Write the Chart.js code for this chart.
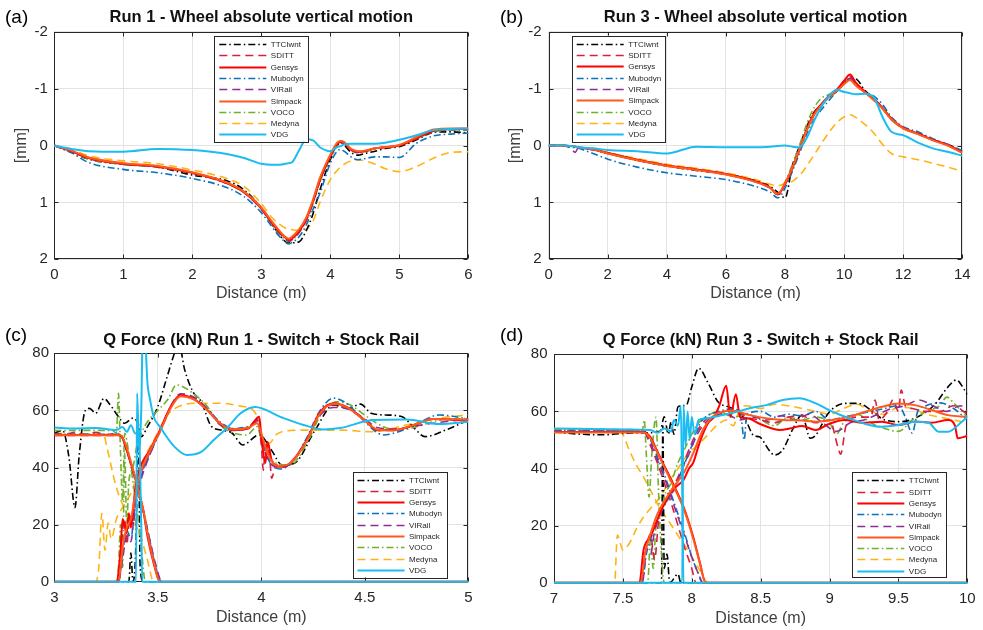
<!DOCTYPE html>
<html><head><meta charset="utf-8">
<script src="https://cdn.jsdelivr.net/npm/chart.js@4.4.1/dist/chart.umd.min.js"></script>
<style>
html,body{margin:0;padding:0;background:#fff;}
#wrap{position:relative;width:983px;height:630px;overflow:hidden;background:#fff;}
.pane{position:absolute;}
.pane canvas{display:block;}
.tag{position:absolute;font:19px 'Liberation Sans',Arial,sans-serif;color:#000;line-height:22px;white-space:nowrap;}
</style></head><body>
<div id="wrap">
<div class="pane" style="left:0;top:0;width:490px;height:305px"><canvas id="cA" width="490" height="305" style="width:490px;height:305px"></canvas></div>
<div class="pane" style="left:490px;top:0;width:493px;height:305px"><canvas id="cB" width="493" height="305" style="width:493px;height:305px"></canvas></div>
<div class="pane" style="left:0;top:305px;width:490px;height:325px"><canvas id="cC" width="490" height="325" style="width:490px;height:325px"></canvas></div>
<div class="pane" style="left:490px;top:305px;width:493px;height:325px"><canvas id="cD" width="493" height="325" style="width:493px;height:325px"></canvas></div>
<div class="tag" style="left:5px;top:6px">(a)</div>
<div class="tag" style="left:500px;top:6px">(b)</div>
<div class="tag" style="left:5px;top:324px">(c)</div>
<div class="tag" style="left:500px;top:324px">(d)</div>
</div>
<script>
// ---------- series ----------
const seriesNames  = ['TTCIwnt','SDITT','Gensys','Mubodyn','VIRail','Simpack','VOCO','Medyna','VDG'];
const seriesColors = ['#000000','#D6203F','#FF0000','#0A72BD','#8E2E95','#FF5A1E','#70B02C','#FFB414','#1BBCF0'];
const seriesDash   = ['dd','da','so','dd','da','so','dd','da','so'];
const seriesOrder  = [7,5,2,4,3,1,6,8,0];

// ---------- tick labels ----------
const A_xTicks = [0,1,2,3,4,5,6];
const B_xTicks = [0,2,4,6,8,10,12,14];
const AB_yTicks = [-2,-1,0,1,2];
const C_xTicks = [3,3.5,4,4.5,5];
const D_xTicks = [7,7.5,8,8.5,9,9.5,10];
const CD_yTicks = [0,20,40,60,80];

// ---------- (a) Run 1 - wheel vertical motion (mm) ----------
const A_x       = [0,0.25,0.5,1,1.5,2,2.5,2.75,3,3.15,3.25,3.35,3.4,3.45,3.55,3.65,3.75,3.85,4.0,4.1,4.15,4.2,4.3,4.4,4.5,4.65,4.8,5.0,5.25,5.5,5.75,6.0];
const A_TTCIwnt = [0,0.12,0.24,0.33,0.38,0.52,0.62,0.78,1.1,1.38,1.55,1.69,1.71,1.71,1.69,1.5,1.2,0.78,0.25,0.0,-0.05,-0.01,0.12,0.17,0.14,0.1,0.05,0.02,-0.1,-0.23,-0.24,-0.22];
const A_SDITT   = [0,0.1,0.23,0.33,0.38,0.49,0.67,0.83,1.12,1.37,1.52,1.64,1.68,1.65,1.52,1.32,1.0,0.62,0.2,-0.02,-0.06,-0.04,0.08,0.12,0.1,0.05,0.03,0.0,-0.12,-0.25,-0.28,-0.28];
const A_Gensys  = [0,0.1,0.22,0.32,0.37,0.48,0.66,0.82,1.1,1.35,1.5,1.62,1.66,1.63,1.5,1.3,0.98,0.6,0.19,-0.03,-0.07,-0.05,0.07,0.11,0.1,0.05,0.03,0.0,-0.13,-0.26,-0.29,-0.29];
const A_Mubodyn = [0,0.13,0.3,0.42,0.48,0.58,0.74,0.9,1.18,1.42,1.58,1.7,1.73,1.7,1.6,1.4,1.12,0.84,0.31,0.1,0.07,0.1,0.2,0.25,0.23,0.2,0.2,0.21,-0.04,-0.17,-0.2,-0.22];
const A_VIRail  = [0,0.1,0.22,0.32,0.37,0.48,0.66,0.82,1.11,1.36,1.51,1.63,1.67,1.64,1.51,1.31,0.99,0.61,0.19,-0.01,-0.04,-0.03,0.08,0.12,0.1,0.05,0.03,0.0,-0.13,-0.26,-0.28,-0.28];
const A_Simpack = [0,0.09,0.21,0.31,0.36,0.47,0.65,0.81,1.09,1.33,1.48,1.61,1.64,1.6,1.47,1.27,0.95,0.57,0.16,-0.05,-0.08,-0.06,0.06,0.1,0.09,0.05,0.03,-0.01,-0.15,-0.28,-0.3,-0.3];
const A_VOCO    = [0,0.11,0.24,0.33,0.38,0.49,0.67,0.83,1.12,1.38,1.54,1.66,1.69,1.66,1.53,1.33,1.02,0.64,0.22,0.0,-0.05,-0.04,0.08,0.13,0.11,0.06,0.03,0.0,-0.12,-0.24,-0.27,-0.27];
const A_Medyna  = [0,0.07,0.18,0.27,0.32,0.43,0.58,0.72,1.02,1.26,1.37,1.45,1.46,1.48,1.49,1.47,1.33,1.0,0.6,0.44,0.38,0.33,0.27,0.25,0.27,0.33,0.41,0.46,0.37,0.22,0.12,0.11];
const A_VDG     = [0,0.06,0.1,0.11,0.06,0.08,0.15,0.22,0.32,0.34,0.34,0.32,0.31,0.29,0.08,-0.11,-0.09,0.03,0.1,0.03,0.01,-0.02,-0.03,-0.03,-0.03,-0.03,-0.05,-0.1,-0.18,-0.27,-0.29,-0.3];

// ---------- (b) Run 3 - wheel vertical motion (mm) ----------
const B_x       = [0,0.5,0.75,0.9,1,1.5,2,3,4,5,6,7,7.5,7.75,8,8.25,8.5,8.75,9,9.25,9.5,9.75,10,10.2,10.4,10.7,11,11.3,11.6,12,12.5,13,13.5,14];
const B_TTCIwnt = [0,0,0.01,0.02,0.03,0.07,0.14,0.26,0.36,0.44,0.5,0.62,0.72,0.82,0.92,0.35,0.0,-0.35,-0.6,-0.72,-0.85,-0.95,-1.08,-1.18,-1.17,-0.97,-0.83,-0.66,-0.46,-0.3,-0.21,-0.1,-0.02,0.1];
const B_SDITT   = [0,0,0.01,0.02,0.03,0.08,0.14,0.26,0.36,0.43,0.51,0.64,0.75,0.86,0.67,0.39,0.05,-0.3,-0.57,-0.73,-0.87,-0.97,-1.12,-1.21,-1.08,-0.94,-0.81,-0.66,-0.47,-0.31,-0.21,-0.1,-0.01,0.11];
const B_Gensys  = [0,0,0.01,0.02,0.03,0.07,0.13,0.25,0.35,0.42,0.5,0.63,0.74,0.86,0.68,0.4,0.06,-0.3,-0.58,-0.74,-0.88,-0.98,-1.14,-1.25,-1.1,-0.95,-0.82,-0.66,-0.47,-0.31,-0.21,-0.1,-0.01,0.12];
const B_Mubodyn = [0,0.01,0.03,0.04,0.05,0.14,0.24,0.38,0.48,0.54,0.6,0.72,0.82,0.92,0.75,0.45,0.12,-0.22,-0.47,-0.64,-0.8,-0.95,-1.08,-1.16,-1.06,-0.94,-0.87,-0.72,-0.5,-0.33,-0.24,-0.12,-0.02,0.09];
const B_VIRail  = [0,0,0.05,0.12,0.04,0.07,0.13,0.25,0.35,0.42,0.5,0.63,0.74,0.85,0.67,0.39,0.05,-0.29,-0.57,-0.73,-0.87,-0.97,-1.11,-1.18,-1.07,-0.94,-0.81,-0.66,-0.47,-0.31,-0.21,-0.1,-0.01,0.11];
const B_Simpack = [0,0,0.01,0.02,0.03,0.07,0.14,0.26,0.36,0.43,0.51,0.64,0.75,0.85,0.66,0.38,0.05,-0.28,-0.55,-0.72,-0.86,-0.96,-1.08,-1.15,-1.05,-0.93,-0.8,-0.65,-0.46,-0.3,-0.2,-0.09,0.0,0.13];
const B_VOCO    = [0,0,0.01,0.02,0.03,0.07,0.13,0.25,0.36,0.43,0.51,0.64,0.75,0.85,0.64,0.33,-0.02,-0.4,-0.68,-0.84,-0.9,-0.98,-1.1,-1.18,-1.07,-0.93,-0.8,-0.64,-0.45,-0.3,-0.2,-0.1,-0.01,0.1];
const B_Medyna  = [0,0,0.01,0.02,0.03,0.06,0.12,0.23,0.33,0.4,0.48,0.6,0.68,0.71,0.67,0.63,0.52,0.35,0.15,-0.05,-0.24,-0.4,-0.5,-0.54,-0.49,-0.37,-0.22,-0.02,0.14,0.2,0.25,0.31,0.38,0.45];
const B_VDG     = [0,0,0.01,0.02,0.03,0.05,0.08,0.1,0.14,0.02,0.03,0.03,0.02,0.01,0.0,0.02,0.03,-0.15,-0.45,-0.7,-0.88,-0.98,-0.94,-0.92,-0.9,-0.91,-0.85,-0.5,-0.24,-0.18,-0.05,0.05,0.11,0.18];

// ---------- (c) Q force Run 1 (kN), [distance, force] ----------
const C_TTCIwnt_stock  = [[3,52],[3.04,53],[3.07,44],[3.1,26],[3.12,44],[3.15,60],[3.17,60.7],[3.2,59],[3.24,64.2],[3.27,61.9],[3.31,57.8],[3.34,55.5],[3.38,57.3],[3.4,56],[3.42,50.8],[3.45,54.3],[3.5,61.3],[3.54,70.6],[3.58,80],[3.6,84],[3.63,74.2],[3.67,66.5],[3.71,63],[3.76,54.3],[3.81,53.1],[3.86,52],[3.91,47.9],[3.99,51.4],[4.05,46],[4.1,40.9],[4.16,41.5],[4.26,53.1],[4.35,61.9],[4.42,60.7],[4.48,62.2],[4.53,59],[4.6,58.4],[4.68,57.8],[4.74,53.7],[4.79,50.8],[4.89,53.1],[5,56.6]];
const C_TTCIwnt_switch = [[3,0],[3.36,0],[3.37,10],[3.38,0],[3.395,15],[3.405,57],[3.415,5],[3.43,0],[4.31,0]];
const C_SDITT_stock    = [[3,52],[3.05,51.5],[3.1,52.3],[3.15,51.5],[3.2,52.3],[3.25,51.5],[3.3,52],[3.33,50],[3.36,44],[3.39,36],[3.42,28],[3.45,18],[3.48,8],[3.51,0],[5,0]];
const C_SDITT_switch   = [[3,0],[3.31,0],[3.325,14],[3.34,22],[3.35,13],[3.365,23],[3.38,20],[3.4,33],[3.43,40],[3.47,46.5],[3.51,53],[3.56,61],[3.61,65],[3.67,64],[3.74,60],[3.8,55.5],[3.87,53.5],[3.94,54],[3.98,57],[4.0,48],[4.01,39],[4.02,48],[4.04,44],[4.05,36.2],[4.07,41],[4.1,40],[4.15,42],[4.22,49.5],[4.28,58.5],[4.35,62],[4.41,61],[4.5,56.5],[4.56,53],[4.64,53],[4.74,55],[4.83,57],[5,56.5]];
const C_Gensys_stock   = [[3,51.4],[3.3,51.4],[3.325,51],[3.35,46],[3.38,39],[3.41,31],[3.43,25],[3.45,16],[3.48,6.5],[3.51,0],[5,0]];
const C_Gensys_switch  = [[3,0],[3.3,0],[3.32,11],[3.33,22],[3.35,17],[3.36,24],[3.37,19],[3.39,32],[3.41,39],[3.46,46],[3.51,53],[3.56,61],[3.61,65.4],[3.67,64.2],[3.74,60.1],[3.8,55.5],[3.87,53.1],[3.94,53.7],[3.96,55.6],[3.99,57.8],[4.0,50.8],[4.02,41.6],[4.03,49],[4.05,42.6],[4.09,40.3],[4.14,41.6],[4.22,49.6],[4.28,59],[4.35,62.5],[4.41,61.3],[4.5,56.6],[4.56,53.1],[4.64,53.1],[4.74,54.9],[4.83,57],[5,56.4]];
const C_Mubodyn_stock  = [[3,51.6],[3.32,51.6],[3.34,48],[3.37,41],[3.4,33],[3.43,25],[3.46,15],[3.49,5],[3.52,0],[5,0]];
const C_Mubodyn_switch = [[3,0],[3.31,0],[3.33,10],[3.35,18],[3.37,15],[3.39,28],[3.42,37],[3.47,46],[3.52,54],[3.57,62],[3.61,65.2],[3.67,64.5],[3.74,60.5],[3.8,56],[3.87,53.6],[3.94,54.5],[3.98,56],[4.01,48],[4.04,42],[4.09,39.5],[4.15,42],[4.22,50.5],[4.28,59.5],[4.35,64.3],[4.42,62],[4.5,56],[4.59,51.4],[4.68,53],[4.77,56],[4.86,58.4],[5,57]];
const C_VIRail_stock   = [[3,51.2],[3.32,51.2],[3.34,48.5],[3.37,41.5],[3.4,33.5],[3.43,24.5],[3.46,15],[3.49,6],[3.52,0],[5,0]];
const C_VIRail_switch  = [[3,0],[3.31,0],[3.33,8],[3.35,16],[3.37,14],[3.39,27],[3.42,36],[3.47,46],[3.52,54.5],[3.57,62.5],[3.61,65.8],[3.67,64.8],[3.74,60.5],[3.8,55],[3.87,53],[3.94,54],[3.98,56.5],[4.01,47],[4.05,41],[4.1,40],[4.15,42],[4.22,50],[4.28,58],[4.35,61],[4.42,60.5],[4.5,57],[4.56,54],[4.64,53.5],[4.74,54.5],[4.83,55.5],[5,57]];
const C_Simpack_stock  = [[3,51.3],[3.32,51.3],[3.34,49],[3.37,42],[3.4,34],[3.43,25],[3.45,17],[3.48,7],[3.51,0],[5,0]];
const C_Simpack_switch = [[3,0],[3.31,0],[3.33,12],[3.35,19],[3.37,22],[3.39,30],[3.41,37],[3.46,45.5],[3.51,52.5],[3.56,60.5],[3.61,65],[3.67,64],[3.74,60],[3.8,55.5],[3.87,53.3],[3.94,54],[3.98,55.5],[4.0,52],[4.03,45],[4.08,40.5],[4.14,41.5],[4.22,49.5],[4.28,58.5],[4.35,62.3],[4.41,61.2],[4.5,56.5],[4.56,53.3],[4.64,53],[4.74,55],[4.83,57],[5,56.8]];
const C_VOCO_stock     = [[3,52.9],[3.1,53],[3.2,53],[3.28,53],[3.3,52],[3.31,66],[3.32,45],[3.33,28],[3.34,52],[3.36,45],[3.38,35],[3.4,25],[3.42,12],[3.44,0],[5,0]];
const C_VOCO_switch    = [[3,0],[3.3,0],[3.31,5],[3.32,20],[3.33,5],[3.34,45],[3.35,20],[3.36,35],[3.38,40],[3.4,48],[3.42,52],[3.45,56],[3.5,60],[3.55,64],[3.59,68.9],[3.67,66],[3.74,61.3],[3.8,54.9],[3.87,52],[3.93,51.4],[3.98,54.3],[4.01,46],[4.07,41.6],[4.14,40.9],[4.22,48.5],[4.3,60.1],[4.37,63],[4.43,61.9],[4.51,57.8],[4.59,54.3],[4.67,53.1],[4.75,54.3],[4.86,56.6],[5,57.2]];
const C_Medyna_stock   = [[3,52],[3.2,51.8],[3.24,51.4],[3.25,48.5],[3.3,33],[3.35,24],[3.41,17.2],[3.45,7.6],[3.48,0],[5,0]];
const C_Medyna_switch  = [[3,0],[3.2,0],[3.215,5],[3.23,24],[3.245,11],[3.26,20.5],[3.275,15],[3.3,22],[3.33,26],[3.37,31],[3.4,37],[3.43,42.6],[3.49,50.8],[3.54,57.8],[3.62,61.9],[3.7,62.5],[3.8,62.5],[3.9,61.5],[3.96,60.1],[3.99,56],[4.01,49.6],[4.04,48.5],[4.07,51.4],[4.15,53],[4.22,53.1],[4.38,53.1],[4.54,52.5],[4.7,54.9],[4.86,57.3],[5,58.4]];
const C_VDG_stock      = [[3,54],[3.1,53.7],[3.2,53.8],[3.3,53.1],[3.33,54.2],[3.35,52.5],[3.37,54.8],[3.39,52],[3.41,50],[3.42,20],[3.425,0],[5,0]];
const C_VDG_switch     = [[3,0],[3.395,0],[3.4,66],[3.41,45],[3.42,60],[3.43,98],[3.44,85],[3.45,69.5],[3.46,64.8],[3.48,57.8],[3.51,54.3],[3.58,47.3],[3.64,44.4],[3.71,45.5],[3.77,49.6],[3.84,54.3],[3.9,59],[3.97,61.2],[4.1,57.5],[4.2,55],[4.3,53.3],[4.38,53.8],[4.54,56.6],[4.7,56.8],[4.86,55.2],[5,56]];

// ---------- (d) Q force Run 3 (kN), [distance, force] ----------
const D_TTCIwnt_stock  = [[7,52.8],[7.2,52],[7.36,51.8],[7.5,52.3],[7.65,52.5],[7.77,53],[7.8,58.1],[7.83,52],[7.85,56.4],[7.87,52],[7.9,61.6],[7.96,62.2],[8.0,68.6],[8.05,75.1],[8.12,69.8],[8.19,63.4],[8.29,61.1],[8.39,57],[8.45,51.5],[8.49,51.1],[8.56,46.5],[8.6,44.7],[8.66,46.5],[8.73,53.5],[8.8,58.7],[8.86,50.6],[8.9,51.7],[8.99,59.3],[9.11,62.8],[9.21,62.8],[9.3,60.5],[9.4,57],[9.52,56.4],[9.64,58.1],[9.76,62.2],[9.86,68.6],[9.92,71],[9.98,67.5],[10,66]];
const D_TTCIwnt_switch = [[7,0],[7.78,0],[7.79,55],[7.8,5],[7.82,10],[7.84,0],[7.9,3],[7.92,0],[10,0]];
const D_SDITT_stock    = [[7,53],[7.65,53],[7.7,48],[7.75,42],[7.8,35],[7.85,28],[7.9,20],[7.95,12],[8.0,5],[8.03,0],[10,0]];
const D_SDITT_switch   = [[7,0],[7.64,0],[7.67,12],[7.7,17],[7.73,8],[7.76,22],[7.8,27],[7.85,32],[7.9,37],[7.95,43],[8.0,49],[8.05,54],[8.1,57],[8.2,59],[8.3,61],[8.4,58],[8.5,57],[8.6,56],[8.7,58],[8.8,58.5],[8.9,56],[9.0,57],[9.06,47.6],[9.08,45],[9.12,55],[9.2,58],[9.3,58],[9.33,64],[9.36,57],[9.42,60],[9.46,64],[9.5,60],[9.52,67.5],[9.55,62],[9.6,61],[9.7,60],[9.8,60],[9.9,62],[10,59]];
const D_Gensys_stock   = [[7,52.8],[7.3,52.8],[7.65,52.8],[7.7,51],[7.745,46.5],[7.8,41],[7.84,37.1],[7.9,31],[7.94,26.6],[8.01,16.1],[8.06,6.8],[8.1,0],[10,0]];
const D_Gensys_switch  = [[7,0],[7.62,0],[7.65,11.5],[7.7,16.1],[7.75,22],[7.79,26.6],[7.86,32.5],[7.94,36],[7.98,40],[8.01,42],[8.05,48],[8.08,52],[8.12,56],[8.16,58],[8.2,62],[8.25,69],[8.28,58],[8.32,66],[8.35,58],[8.4,57.6],[8.5,55.5],[8.64,53.5],[8.71,54],[8.8,54.9],[8.9,53.5],[8.99,55.5],[9.11,57],[9.23,56],[9.38,56.4],[9.5,55.2],[9.62,56.5],[9.74,56],[9.86,57],[9.91,55],[9.93,50.6],[10,51.4]];
const D_Mubodyn_stock  = [[7,53.2],[7.65,53.2],[7.7,50],[7.75,44],[7.8,38],[7.85,31],[7.9,24],[7.95,17],[8.0,9],[8.05,3],[8.08,0],[10,0]];
const D_Mubodyn_switch = [[7,0],[7.64,0],[7.67,10],[7.7,15],[7.75,22],[7.8,27],[7.85,31],[7.9,36],[7.95,42],[8.0,48],[8.05,55],[8.1,58],[8.2,60],[8.3,61],[8.36,57],[8.38,50],[8.4,59],[8.5,60],[8.6,58],[8.7,59],[8.8,58.5],[8.9,60],[9.0,57],[9.1,58],[9.2,59],[9.3,60],[9.4,61],[9.5,62],[9.55,58],[9.6,52.4],[9.64,60],[9.7,62],[9.8,63],[9.9,61],[10,57]];
const D_VIRail_stock   = [[7,53],[7.65,53],[7.7,49],[7.75,43],[7.8,37],[7.85,30],[7.9,23],[7.95,16],[8.0,9],[8.04,4],[8.08,0],[10,0]];
const D_VIRail_switch  = [[7,0],[7.64,0],[7.67,12],[7.7,10],[7.73,18],[7.78,25],[7.83,30],[7.88,33],[7.93,40],[7.98,45],[8.03,51],[8.08,55],[8.15,58],[8.25,59],[8.35,57],[8.45,58],[8.55,57],[8.65,58.5],[8.75,57],[8.85,59],[8.95,56],[9.05,53],[9.15,56],[9.25,57],[9.35,59],[9.45,61],[9.55,62],[9.65,64],[9.75,62],[9.85,60],[9.95,62],[10,60]];
const D_Simpack_stock  = [[7,52.6],[7.65,52.6],[7.7,50.5],[7.75,45.5],[7.84,36.5],[7.94,26],[8.01,15.5],[8.06,6.5],[8.1,0],[10,0]];
const D_Simpack_switch = [[7,0],[7.63,0],[7.66,10],[7.7,17],[7.75,24],[7.8,28.5],[7.86,33],[7.94,38.3],[8.01,45.3],[8.08,53.5],[8.15,58.1],[8.22,59.9],[8.3,60.2],[8.42,58.7],[8.55,57.5],[8.66,57],[8.8,56.8],[8.9,56.4],[9.02,57],[9.14,58.1],[9.26,59.9],[9.38,61.6],[9.5,62.8],[9.62,62.2],[9.74,60.5],[9.86,58.7],[10,58.1]];
const D_VOCO_stock     = [[7,53.6],[7.6,53.6],[7.64,53],[7.655,57],[7.67,45],[7.69,30],[7.71,45],[7.74,58],[7.76,30],[7.78,10],[7.8,0],[10,0]];
const D_VOCO_switch    = [[7,0],[7.68,0],[7.7,15],[7.72,5],[7.74,20],[7.78,25],[7.8,30],[7.85,35],[7.9,42],[7.95,47],[8.0,52],[8.05,56],[8.1,58],[8.2,60],[8.3,58],[8.4,59],[8.5,57],[8.6,55],[8.7,58],[8.8,57],[8.9,58],[9.0,56],[9.05,52],[9.1,56],[9.2,59],[9.3,56],[9.4,54],[9.5,53],[9.6,57],[9.7,60],[9.8,62],[9.85,65],[9.9,63],[10,58]];
const D_Medyna_stock   = [[7,53.5],[7.48,53],[7.55,46],[7.6,41],[7.65,37],[7.7,32.4],[7.77,26],[7.84,21],[7.9,16.5],[7.97,11.5],[8.05,5],[8.12,0],[10,0]];
const D_Medyna_switch  = [[7,0],[7.44,0],[7.46,16.7],[7.5,11.5],[7.55,14],[7.6,19],[7.65,23],[7.7,26],[7.77,30],[7.83,35],[7.9,40],[7.97,45],[8.04,48],[8.12,52],[8.18,55],[8.25,57],[8.3,55],[8.35,61],[8.4,62],[8.5,61],[8.6,62.5],[8.7,62],[8.8,61],[8.9,60],[9.0,59],[9.1,61],[9.2,62.5],[9.3,60],[9.4,59],[9.5,61.5],[9.6,61],[9.7,59],[9.8,58],[9.9,57],[10,56]];
const D_VDG_stock      = [[7,54],[7.5,53.7],[7.7,53.5],[7.75,52.5],[7.8,54],[7.85,53],[7.87,57],[7.9,55],[7.92,62],[7.93,35],[7.94,0],[10,0]];
const D_VDG_switch     = [[7,0],[7.93,0],[7.94,62],[7.955,48],[7.97,60],[7.985,50],[8.0,58],[8.02,52],[8.05,57],[8.1,57.5],[8.2,58.5],[8.3,59.5],[8.42,61.1],[8.54,62.2],[8.66,64],[8.78,64.6],[8.9,62.8],[9.02,59.9],[9.14,57.6],[9.26,55.6],[9.38,54.6],[9.5,55.2],[9.62,56.4],[9.72,56],[9.79,52.9],[9.86,52.9],[9.96,56.4],[10,58.1]];

// ---------- helpers ----------
const FONT = "'Liberation Sans', Arial, Helvetica, sans-serif";
const GRID = '#e3e3e3';
const AXC = '#262626';
function dashOf(k){ return k === 'dd' ? [7,3,1.5,3] : (k === 'da' ? [8,5] : []); }
function widthOf(i){ return seriesDash[i] === 'so' ? 2 : 1.6; }
function styleFor(i){
  return {
    label: seriesNames[i], borderColor: seriesColors[i], backgroundColor: seriesColors[i],
    borderDash: dashOf(seriesDash[i]), borderWidth: widthOf(i),
    pointRadius: 0, pointHoverRadius: 0, fill: false, cubicInterpolationMode: 'monotone', order: seriesOrder[i],
    clip: { left: 0, top: 0, right: 0, bottom: 3 }
  };
}
function gridSeries(xs, ys, i){ return Object.assign(styleFor(i), {data: xs.map((x,k)=>({x:x, y:ys[k]}))}); }
function pairSeries(pairs, i){ return Object.assign(styleFor(i), {data: pairs.map(p=>({x:p[0], y:p[1]}))}); }

const framePlugin = {
  id: 'frame',
  beforeDatasetsDraw(chart){
    const ctx = chart.ctx, a = chart.chartArea, sx = chart.scales.x, sy = chart.scales.y;
    ctx.save();
    ctx.strokeStyle = AXC; ctx.lineWidth = 1; ctx.setLineDash([]);
    const L = Math.round(a.left)+0.5, T = Math.round(a.top)+0.5, R = Math.round(a.right)-0.5, B = Math.round(a.bottom)-0.5;
    ctx.strokeRect(L, T, R-L, B-T);
    const tl = 4;
    ctx.beginPath();
    sx.ticks.forEach(t=>{ const p = Math.round(sx.getPixelForValue(t.value))+0.5; ctx.moveTo(p,B); ctx.lineTo(p,B-tl); ctx.moveTo(p,T); ctx.lineTo(p,T+tl); });
    sy.ticks.forEach(t=>{ const p = Math.round(sy.getPixelForValue(t.value))+0.5; ctx.moveTo(L,p); ctx.lineTo(L+tl,p); ctx.moveTo(R,p); ctx.lineTo(R-tl,p); });
    ctx.stroke();
    ctx.restore();
  },
  afterDatasetsDraw(chart, args, opts){
    const ctx = chart.ctx;
    const lb = opts.box;
    if (!lb) return;
    ctx.save();
    ctx.fillStyle = '#ffffff';
    ctx.fillRect(lb.x, lb.y, lb.w, lb.h);
    ctx.strokeStyle = AXC; ctx.lineWidth = 1; ctx.setLineDash([]);
    ctx.strokeRect(Math.round(lb.x)+0.5, Math.round(lb.y)+0.5, Math.round(lb.w), Math.round(lb.h));
    ctx.font = '8px ' + FONT; ctx.textBaseline = 'middle'; ctx.textAlign = 'left';
    seriesNames.forEach((name,i)=>{
      const y = Math.round(lb.y + 8 + i*11.3) + 0.5;
      ctx.strokeStyle = seriesColors[i];
      ctx.lineWidth = widthOf(i);
      ctx.setLineDash(dashOf(seriesDash[i]));
      ctx.beginPath(); ctx.moveTo(lb.x+5, y); ctx.lineTo(lb.x+52, y); ctx.stroke();
      ctx.setLineDash([]);
      ctx.fillStyle = '#262626';
      ctx.fillText(name, lb.x+56.5, y);
    });
    ctx.restore();
  }
};

function panel(id, o){
  return new Chart(document.getElementById(id), {
    type: 'line',
    data: { datasets: o.datasets },
    options: {
      responsive: false, animation: false, devicePixelRatio: 1,
      events: [],
      layout: { padding: { left: o.padL, right: o.padR, top: 0, bottom: 0 } },
      plugins: {
        legend: { display: false }, tooltip: { enabled: false },
        title: { display: true, text: o.title, fullSize: false, color: '#111111',
                 font: { family: FONT, size: 16.5, weight: 'bold' },
                 padding: { top: o.tTop, bottom: o.tBot } },
        frame: { box: o.legendBox }
      },
      scales: {
        x: {
          type: 'linear', min: o.xMin, max: o.xMax,
          grid: { color: GRID, drawTicks: false, lineWidth: 1 },
          border: { display: false },
          ticks: { font: { family: FONT, size: 15 }, color: AXC, padding: o.xTickPad, autoSkip: false, maxRotation: 0, callback: v => String(v) },
          afterBuildTicks: s => { s.ticks = o.xTicks.map(v => ({ value: v })); },
          title: { display: true, text: 'Distance (m)', color: '#404040', font: { family: FONT, size: 16 }, padding: { top: 0, bottom: o.xTitleBot } },
          afterFit: s => { s.height = o.xH; }
        },
        y: {
          type: 'linear', min: o.yMin, max: o.yMax, reverse: !!o.yRev,
          grid: { color: GRID, drawTicks: false, lineWidth: 1 },
          border: { display: false },
          ticks: { font: { family: FONT, size: 15 }, color: AXC, padding: o.yTickPad, callback: v => String(v) },
          afterBuildTicks: s => { s.ticks = o.yTicks.map(v => ({ value: v })); },
          title: { display: !!o.yTitle, text: o.yTitle || '', color: '#404040', font: { family: FONT, size: 16 }, padding: { top: 0, bottom: 0 } },
          afterFit: s => { s.width = o.yW; }
        }
      }
    },
    plugins: [framePlugin]
  });
}

const A_series = [A_TTCIwnt, A_SDITT, A_Gensys, A_Mubodyn, A_VIRail, A_Simpack, A_VOCO, A_Medyna, A_VDG];
const B_series = [B_TTCIwnt, B_SDITT, B_Gensys, B_Mubodyn, B_VIRail, B_Simpack, B_VOCO, B_Medyna, B_VDG];
const C_stock  = [C_TTCIwnt_stock, C_SDITT_stock, C_Gensys_stock, C_Mubodyn_stock, C_VIRail_stock, C_Simpack_stock, C_VOCO_stock, C_Medyna_stock, C_VDG_stock];
const C_switch = [C_TTCIwnt_switch, C_SDITT_switch, C_Gensys_switch, C_Mubodyn_switch, C_VIRail_switch, C_Simpack_switch, C_VOCO_switch, C_Medyna_switch, C_VDG_switch];
const D_stock  = [D_TTCIwnt_stock, D_SDITT_stock, D_Gensys_stock, D_Mubodyn_stock, D_VIRail_stock, D_Simpack_stock, D_VOCO_stock, D_Medyna_stock, D_VDG_stock];
const D_switch = [D_TTCIwnt_switch, D_SDITT_switch, D_Gensys_switch, D_Mubodyn_switch, D_VIRail_switch, D_Simpack_switch, D_VOCO_switch, D_Medyna_switch, D_VDG_switch];

panel('cA', {
  title: 'Run 1 - Wheel absolute vertical motion',
  datasets: A_series.map((ys,i)=>gridSeries(A_x, ys, i)),
  xMin: 0, xMax: 6, xTicks: A_xTicks, yMin: -2, yMax: 2, yRev: true, yTicks: AB_yTicks, yTitle: '[mm]',
  padL: 12, padR: 21.7, yW: 42.3, tTop: 7.4, tBot: 4.5, xH: 45.7, xTickPad: 6.7, xTitleBot: 1.4, yTickPad: 6.5,
  legendBox: { x: 214.3, y: 36, w: 94, h: 105.7 }
});
panel('cB', {
  title: 'Run 3 - Wheel absolute vertical motion',
  datasets: B_series.map((ys,i)=>gridSeries(B_x, ys, i)),
  xMin: 0, xMax: 14, xTicks: B_xTicks, yMin: -2, yMax: 2, yRev: true, yTicks: AB_yTicks, yTitle: '[mm]',
  padL: 16.4, padR: 20.7, yW: 42.3, tTop: 7.4, tBot: 4.5, xH: 45.7, xTickPad: 6.7, xTitleBot: 1.4, yTickPad: 7,
  legendBox: { x: 81.7, y: 35.7, w: 93.3, h: 106 }
});
panel('cC', {
  title: 'Q Force (kN) Run 1 - Switch + Stock Rail',
  datasets: C_stock.map((p,i)=>pairSeries(p,i)).concat(C_switch.map((p,i)=>pairSeries(p,i))),
  xMin: 3, xMax: 5, xTicks: C_xTicks, yMin: 0, yMax: 80, yTicks: CD_yTicks,
  padL: 10, padR: 21.7, yW: 44.3, tTop: 25.1, tBot: 3.4, xH: 48.3, xTickPad: 7, xTitleBot: 3.1, yTickPad: 5.3,
  legendBox: { x: 352.5, y: 166.5, w: 94, h: 105.5 }
});
panel('cD', {
  title: 'Q Force (kN) Run 3 - Switch + Stock Rail',
  datasets: D_stock.map((p,i)=>pairSeries(p,i)).concat(D_switch.map((p,i)=>pairSeries(p,i))),
  xMin: 7, xMax: 10, xTicks: D_xTicks, yMin: 0, yMax: 80, yTicks: CD_yTicks,
  padL: 10, padR: 15.3, yW: 54, tTop: 25.8, tBot: 3.7, xH: 47.3, xTickPad: 7.3, xTitleBot: 2.1, yTickPad: 6.5,
  legendBox: { x: 362.3, y: 167.3, w: 93.7, h: 105.4 }
});
</script>
</body></html>
